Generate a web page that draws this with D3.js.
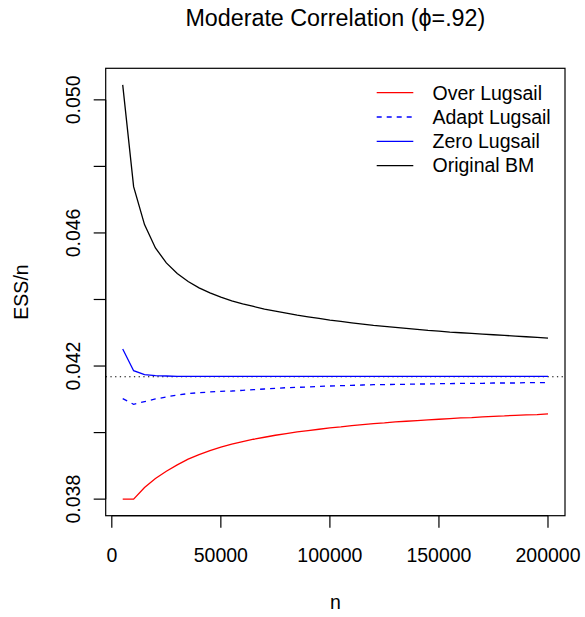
<!DOCTYPE html>
<html>
<head>
<meta charset="utf-8">
<script src="https://cdn.jsdelivr.net/npm/d3@7"></script>
<style>
  body { margin: 0; background: #fff; }
  text { font-family: "Liberation Sans", Arial, Helvetica, sans-serif; fill: #000; }
</style>
</head>
<body>
<div id="chart"></div>
<script>
// sample sizes (n)
const nValues = [
  5000, 10000, 15000, 20000, 25000, 30000, 35000, 40000, 45000, 50000,
  55000, 60000, 65000, 70000, 75000, 80000, 85000, 90000, 95000, 100000,
  105000, 110000, 115000, 120000, 125000, 130000, 135000, 140000, 145000, 150000,
  155000, 160000, 165000, 170000, 175000, 180000, 185000, 190000, 195000, 200000
];

// ESS/n per method
const overLugsail = [
  0.03800, 0.03800, 0.03835, 0.03862, 0.03884, 0.03903, 0.03920, 0.03934, 0.03946, 0.03956,
  0.03965, 0.03973, 0.03980, 0.03986, 0.03992, 0.03997, 0.04002, 0.04006, 0.04010, 0.04014,
  0.04017, 0.04021, 0.04024, 0.04027, 0.04029, 0.04032, 0.04034, 0.04036, 0.04038, 0.04040,
  0.04042, 0.04044, 0.04045, 0.04047, 0.04049, 0.04050, 0.04052, 0.04053, 0.04054, 0.04056
];
const adaptLugsail = [
  0.04102, 0.04085, 0.04093, 0.04101, 0.04107, 0.04113, 0.04117, 0.04120, 0.04122, 0.04124,
  0.04125, 0.04127, 0.04129, 0.04131, 0.04133, 0.04135, 0.04136, 0.04137, 0.04139, 0.04140,
  0.04141, 0.04142, 0.04143, 0.04144, 0.04144, 0.04145, 0.04145, 0.04146, 0.04146, 0.04147,
  0.04147, 0.04148, 0.04148, 0.04148, 0.04149, 0.04149, 0.04149, 0.04150, 0.04150, 0.04150
];
const zeroLugsail = [
  0.04251, 0.04186, 0.04174, 0.04171, 0.04170, 0.04169, 0.04169, 0.04169, 0.04169, 0.04169,
  0.04169, 0.04169, 0.04169, 0.04169, 0.04169, 0.04169, 0.04169, 0.04169, 0.04169, 0.04169,
  0.04169, 0.04169, 0.04169, 0.04169, 0.04169, 0.04169, 0.04169, 0.04169, 0.04169, 0.04169,
  0.04169, 0.04169, 0.04169, 0.04169, 0.04169, 0.04169, 0.04169, 0.04169, 0.04169, 0.04169
];
const originalBM = [
  0.05045, 0.04739, 0.04625, 0.04555, 0.04510, 0.04478, 0.04454, 0.04435, 0.04420, 0.04407,
  0.04396, 0.04387, 0.04379, 0.04371, 0.04365, 0.04359, 0.04353, 0.04348, 0.04343, 0.04338,
  0.04334, 0.04330, 0.04326, 0.04322, 0.04319, 0.04316, 0.04313, 0.04310, 0.04307, 0.04305,
  0.04302, 0.04300, 0.04298, 0.04296, 0.04294, 0.04292, 0.04290, 0.04288, 0.04286, 0.04284
];

// reference level (dotted line)
const refLevel = 0.04168;

const xTicks = [0, 50000, 100000, 150000, 200000];
const yTicks = [0.038, 0.040, 0.042, 0.044, 0.046, 0.048, 0.050];
const yTickLabels = ["0.038", "", "0.042", "", "0.046", "", "0.050"];

const series = [
  {name: "Over Lugsail",  values: overLugsail,  color: "#ff0000", dash: null},
  {name: "Adapt Lugsail", values: adaptLugsail, color: "#0000ff", dash: "5,5"},
  {name: "Zero Lugsail",  values: zeroLugsail,  color: "#0000ff", dash: null},
  {name: "Original BM",   values: originalBM,   color: "#000000", dash: null}
];

const width = 585, height = 617;
const box = {left: 105.7, right: 565, top: 68.3, bottom: 515.7};

// R-style 4% padding around the data range
const allY = series.flatMap(s => s.values);
const xr = d3.extent(nValues), yr = d3.extent(allY);
const xPad = (xr[1] - xr[0]) * 0.04, yPad = (yr[1] - yr[0]) * 0.04;

const x = d3.scaleLinear().domain([xr[0] - xPad, xr[1] + xPad]).range([box.left, box.right]);
const y = d3.scaleLinear().domain([yr[0] - yPad, yr[1] + yPad]).range([box.bottom, box.top]);

const svg = d3.select('#chart').append('svg')
    .attr('width', width)
    .attr('height', height);

// plot box
svg.append('rect')
    .attr('x', box.left).attr('y', box.top)
    .attr('width', box.right - box.left).attr('height', box.bottom - box.top)
    .style('fill', 'none').style('stroke', '#000').style('stroke-width', 1.2);

// x axis
const xAxis = svg.append('g').attr('transform', `translate(0,${box.bottom})`);
xAxis.append('line')
    .attr('x1', x(xTicks[0])).attr('x2', x(xTicks[xTicks.length - 1]))
    .style('stroke', '#000').style('stroke-width', 1.2);
xAxis.selectAll('line.tick').data(xTicks).join('line')
    .classed('tick', true)
    .attr('x1', d => x(d)).attr('x2', d => x(d))
    .attr('y1', 0).attr('y2', 12)
    .style('stroke', '#000').style('stroke-width', 1.2);
xAxis.selectAll('text').data(xTicks).join('text')
    .attr('x', d => x(d)).attr('y', 46)
    .attr('text-anchor', 'middle')
    .style('font-size', '19.5px')
    .text(d => d3.format('d')(d));

// y axis
const yAxis = svg.append('g').attr('transform', `translate(${box.left},0)`);
yAxis.append('line')
    .attr('y1', y(yTicks[0])).attr('y2', y(yTicks[yTicks.length - 1]))
    .style('stroke', '#000').style('stroke-width', 1.2);
yAxis.selectAll('line.tick').data(yTicks).join('line')
    .classed('tick', true)
    .attr('y1', d => y(d)).attr('y2', d => y(d))
    .attr('x1', 0).attr('x2', -12)
    .style('stroke', '#000').style('stroke-width', 1.2);
yAxis.selectAll('text').data(yTicks).join('text')
    .attr('transform', d => `translate(-26,${y(d)}) rotate(-90)`)
    .attr('text-anchor', 'middle')
    .style('font-size', '19.5px')
    .text((d, i) => yTickLabels[i]);

// reference dotted line across the plot
svg.append('line')
    .attr('x1', box.left).attr('x2', box.right)
    .attr('y1', y(refLevel)).attr('y2', y(refLevel))
    .style('stroke', '#000').style('stroke-width', 1.1)
    .style('stroke-dasharray', '1.3,3.4');

// series lines
const line = d3.line()
    .x((d, i) => x(nValues[i]))
    .y(d => y(d));

svg.selectAll('path.series').data(series).join('path')
    .classed('series', true)
    .attr('d', d => line(d.values))
    .style('fill', 'none')
    .style('stroke', d => d.color)
    .style('stroke-width', 1.3)
    .style('stroke-dasharray', d => d.dash);

// legend (no box)
const legend = svg.append('g');
const rows = legend.selectAll('g').data(series).join('g')
    .attr('transform', (d, i) => `translate(0,${92.7 + i * 24.3})`);
rows.append('line')
    .attr('x1', 376.7).attr('x2', 413.3)
    .style('stroke', d => d.color)
    .style('stroke-width', 1.3)
    .style('stroke-dasharray', d => d.dash);
rows.append('text')
    .attr('x', 432.5).attr('y', 0).attr('dy', '0.35em')
    .style('font-size', '19.5px')
    .text(d => d.name);

// title and axis labels
svg.append('text')
    .attr('x', (box.left + box.right) / 2).attr('y', 25.7)
    .attr('text-anchor', 'middle')
    .style('font-size', '23.3px')
    .text('Moderate Correlation (\u03D5=.92)');

svg.append('text')
    .attr('x', (box.left + box.right) / 2).attr('y', 609)
    .attr('text-anchor', 'middle')
    .style('font-size', '19.5px')
    .text('n');

svg.append('text')
    .attr('transform', `translate(27.5,${(box.top + box.bottom) / 2}) rotate(-90)`)
    .attr('text-anchor', 'middle')
    .style('font-size', '19.5px')
    .text('ESS/n');
</script>
</body>
</html>
